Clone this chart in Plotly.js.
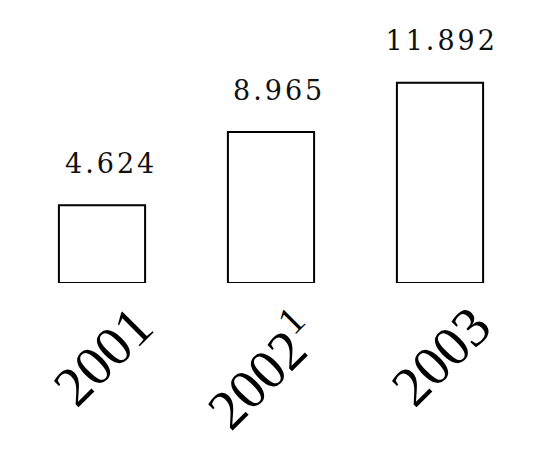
<!DOCTYPE html>
<html>
<head>
<meta charset="utf-8">
<script src="https://cdn.plot.ly/plotly-3.0.1.min.js"></script>
<style>
  html, body { margin: 0; padding: 0; background: #fff; }
  #chart { width: 540px; height: 456px; }
</style>
</head>
<body>
<div id="chart"></div>
<script>
// Data
const categories = ['2001', '2002', '2003'];
const values = [4.624, 8.965, 11.892];
const valueLabels = ['4.624', '8.965', '11.892'];
const tickLabels = ['2001', '2002<sup>1</sup>', '2003'];

const valueShiftX = [7, 6, 0];

const trace = {
  type: 'bar',
  x: categories,
  y: values,
  width: 0.51,
  marker: { color: '#ffffff', line: { color: '#000000', width: 2 } },
  hoverinfo: 'skip'
};

const serifFont = 'Liberation Serif, Tinos, Times New Roman, DejaVu Serif, serif';

const annotations = [];
categories.forEach((c, i) => {
  annotations.push({
    x: i, y: values[i], xref: 'x', yref: 'y',
    text: valueLabels[i], showarrow: false,
    xanchor: 'center', yanchor: 'middle', yshift: 42, xshift: valueShiftX[i],
    font: { family: 'DejaVu Serif, serif', size: 27, color: '#111111' }
  });
  annotations.push({
    x: i, y: 0, xref: 'x', yref: 'y',
    text: tickLabels[i], showarrow: false,
    textangle: -45,
    xanchor: 'center', yanchor: 'middle', yshift: i === 1 ? -86 : -73, xshift: i === 1 ? -10 : 1,
    font: { family: serifFont, size: 56, color: '#000000' }
  });
});

const layout = {
  width: 540, height: 456,
  margin: { l: 0, r: 0, t: 0, b: 173, pad: 0 },
  paper_bgcolor: '#ffffff', plot_bgcolor: '#ffffff',
  showlegend: false,
  xaxis: {
    type: 'category', range: [-0.6036, 2.5917],
    showticklabels: false, showgrid: false, zeroline: false, showline: false, ticks: ''
  },
  yaxis: {
    range: [0, 16.815],
    showticklabels: false, showgrid: false, zeroline: false, showline: false, ticks: ''
  },
  annotations: annotations
};

Plotly.newPlot('chart', [trace], layout, { displayModeBar: false }).then(gd => {
  gd.querySelectorAll('g.annotation').forEach(g => {
    const idx = +g.getAttribute('data-index');
    const t = g.querySelector('text.annotation-text');
    if (!t) return;
    if (idx % 2 === 0) {
      t.style.letterSpacing = '3px';
      t.setAttribute('dx', '1.5');
    } else {
      t.style.fontFamily = serifFont;
    }
  });
});
</script>
</body>
</html>
